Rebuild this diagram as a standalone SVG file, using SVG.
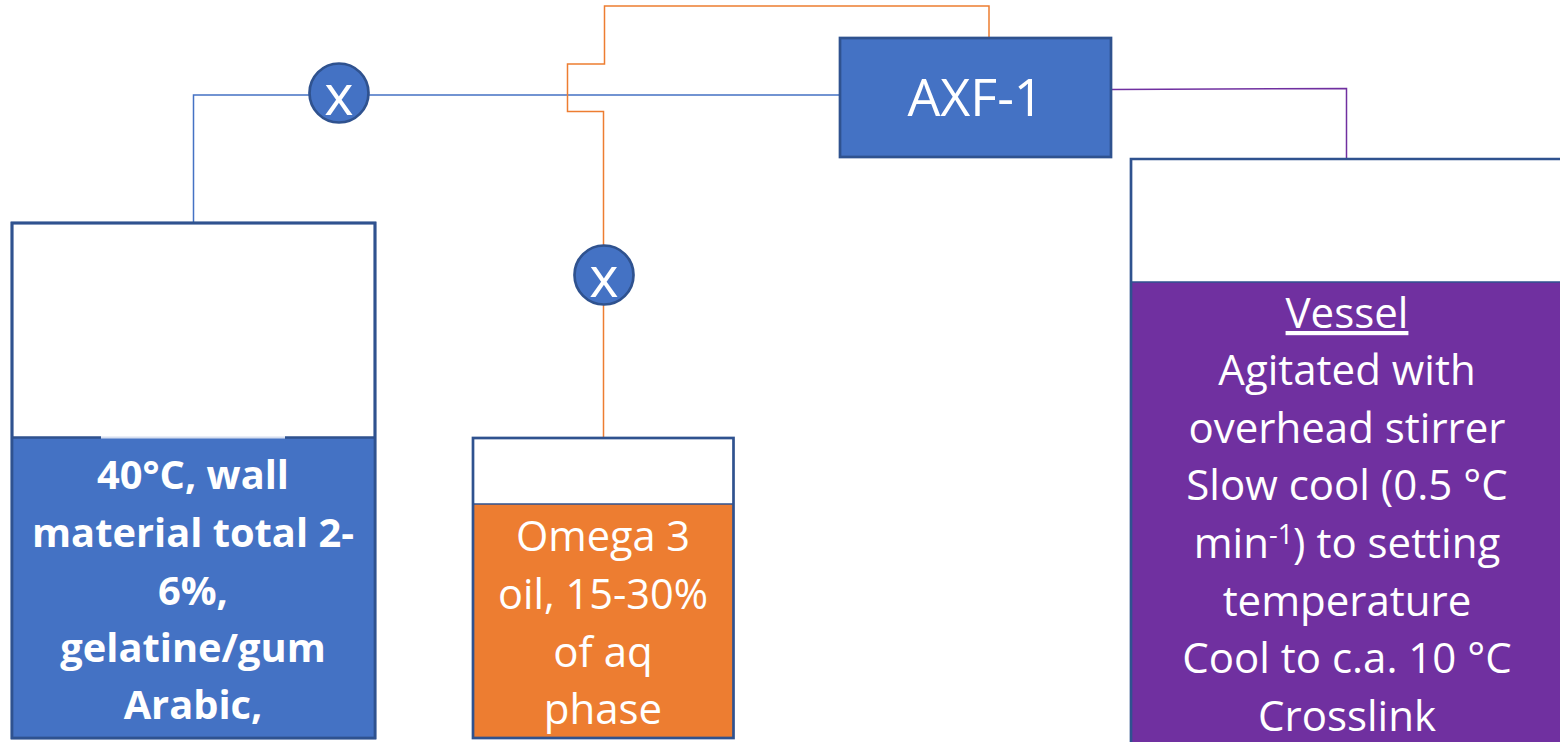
<svg xmlns="http://www.w3.org/2000/svg" width="1560" height="742" viewBox="0 0 1560 742">
<style>
text{font-family:"Open Sans","Noto Sans",sans-serif;fill:#fff;text-anchor:middle}
.t{font-size:42px}
.b{font-size:39.800px;font-weight:700}
.x{font-size:56px}
.c{fill:none;stroke-width:1.500}
.s{stroke:#2f528f;stroke-width:2.700}
</style>
<rect width="1560" height="742" fill="#fff"/>
<g id="connectors">
<path class="c" stroke="#4472c4" d="M193.500 222V95H839"/>
<path class="c" stroke="#ed7d31" d="M989 37V6H604.500V64H567.500V111.500H603.500V437"/>
<path class="c" stroke="#7030a0" d="M1112 89.500L1346.500 88.500V158"/>
</g>
<g id="valve1"><circle class="s" cx="339" cy="93" r="29.500" fill="#4472c4"/><text class="x" x="339" y="114.500">x</text></g>
<g id="valve2"><circle class="s" cx="604" cy="275" r="29.500" fill="#4472c4"/><text class="x" x="604" y="296.500">x</text></g>
<g id="axf1"><rect class="s" x="840" y="38" width="271" height="119" fill="#4472c4"/><text x="975.500" y="116" font-size="52">AXF-1</text></g>
<g id="tank1">
<rect class="s" x="12" y="223" width="363" height="515" fill="#fff"/>
<rect x="12" y="438" width="363" height="300" fill="#4472c4"/>
<path d="M12 437.500H101M285 437.500H375" stroke="#2f528f" stroke-width="2.500"/>
<path d="M101 437.500H285" stroke="#d5deef" stroke-width="2"/>
<rect class="s" x="12" y="223" width="363" height="515" fill="none"/>
<text class="b" x="193" y="489">40°C, wall</text>
<text class="b" x="193" y="547">material total 2-</text>
<text class="b" x="193" y="605">6%,</text>
<text class="b" x="193" y="662">gelatine/gum</text>
<text class="b" x="193" y="719">Arabic,</text>
</g>
<g id="tank2">
<rect x="473" y="504" width="260.500" height="234" fill="#ed7d31"/>
<rect class="s" x="473" y="438" width="260.500" height="300" fill="none"/>
<path d="M473 504H733" stroke="#2f528f" stroke-width="1.500"/>
<text class="t" x="603" y="551" font-size="41.500" style="font-size:41.500px">Omega 3</text>
<text class="t" x="603" y="609" style="font-size:41.500px">oil, 15-30%</text>
<text class="t" x="603" y="667">of aq</text>
<text class="t" x="603" y="724">phase</text>
</g>
<g id="vessel">
<rect x="1131" y="282" width="429" height="460" fill="#7030a0"/>
<path class="s" d="M1131 742V159H1560" fill="none"/>
<path d="M1131 282H1560" stroke="#2f528f" stroke-width="1.500"/>
<text class="t" x="1347" y="328" text-decoration="underline">Vessel</text>
<text class="t" x="1347" y="385">Agitated with</text>
<text class="t" x="1347" y="443">overhead stirrer</text>
<text class="t" x="1347" y="500">Slow cool (0.5 °C</text>
<text class="t" x="1347" y="558">min<tspan dy="-14" font-size="27">-1</tspan><tspan dy="14">) to setting</tspan></text>
<text class="t" x="1347" y="616">temperature</text>
<text class="t" x="1347" y="673">Cool to c.a. 10 °C</text>
<text class="t" x="1347" y="731">Crosslink</text>
</g>
</svg>
